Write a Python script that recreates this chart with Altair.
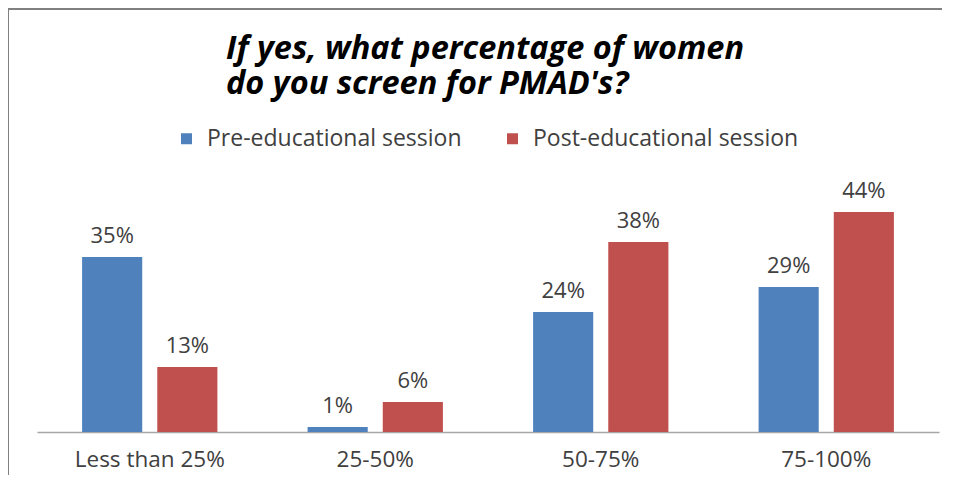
import altair as alt
import pandas as pd

categories = ["Less than 25%", "25-50%", "50-75%", "75-100%"]
series = ["Pre-educational session", "Post-educational session"]
pre_values = [35, 1, 24, 29]
post_values = [13, 6, 38, 44]
colors = ["#4F81BD", "#C0504D"]

rows = []
for c, a, b in zip(categories, pre_values, post_values):
    rows.append({"category": c, "series": series[0], "value": a})
    rows.append({"category": c, "series": series[1], "value": b})
df = pd.DataFrame(rows)

FONT = "Open Sans"

base = alt.Chart(df).encode(
    x=alt.X("category:N", sort=categories,
            scale=alt.Scale(paddingInner=0, paddingOuter=0),
            axis=alt.Axis(title=None, labelAngle=0, ticks=False, labelPadding=16,
                          labelFontSize=22.5, labelFont=FONT, labelColor="#404040",
                          domainColor="#A6A6A6", domainWidth=1.5)),
    xOffset=alt.XOffset("series:N", sort=series,
                        scale=alt.Scale(paddingInner=0.2, paddingOuter=0.6)),
    y=alt.Y("value:Q", scale=alt.Scale(domain=[0, 50], nice=False), axis=None),
)

bars = base.mark_bar().encode(
    color=alt.Color("series:N", sort=series,
                    scale=alt.Scale(domain=series, range=colors),
                    legend=alt.Legend(title=None, orient="none", direction="horizontal",
                                      legendX=138, legendY=-55,
                                      symbolType="square", symbolSize=121,
                                      symbolStrokeWidth=0, symbolOpacity=1,
                                      labelFont=FONT, labelFontSize=23, labelLimit=0,
                                      labelColor="#404040", labelOffset=9,
                                      columnPadding=39))
)

labels = base.mark_text(dy=-9, baseline="bottom", font=FONT, fontSize=22,
                        color="#404040").transform_calculate(
    label="datum.value + '%'"
).encode(text="label:N")

one_row = "datum.category == 'Less than 25%' && datum.series == 'Pre-educational session'"
top_border = alt.Chart(df).transform_filter(one_row).mark_rect(
    color="#808080", strokeWidth=0
).encode(x=alt.value(-30), x2=alt.value(905), y=alt.value(-174), y2=alt.value(-172))
left_border = alt.Chart(df).transform_filter(one_row).mark_rect(
    color="#808080", strokeWidth=0
).encode(x=alt.value(-30), x2=alt.value(-28), y=alt.value(-174), y2=alt.value(293))

chart = alt.layer(top_border, left_border, bars, labels).properties(
    width=902,
    height=250,
    title=alt.TitleParams(
        text=["If yes, what percentage of women", "do you screen for PMAD's?"],
        anchor="start", frame="group", dx=189, offset=-92,
        font=FONT, fontSize=32.5, fontWeight="bold", fontStyle="italic",
        color="#000000", lineHeight=35,
    ),
    autosize=alt.AutoSizeParams(type="none"),
    padding={"left": 29, "top": 174, "right": 9, "bottom": 45},
).configure_view(stroke=None)

chart.save("out.html", embed_options={"renderer": "svg", "actions": False})
